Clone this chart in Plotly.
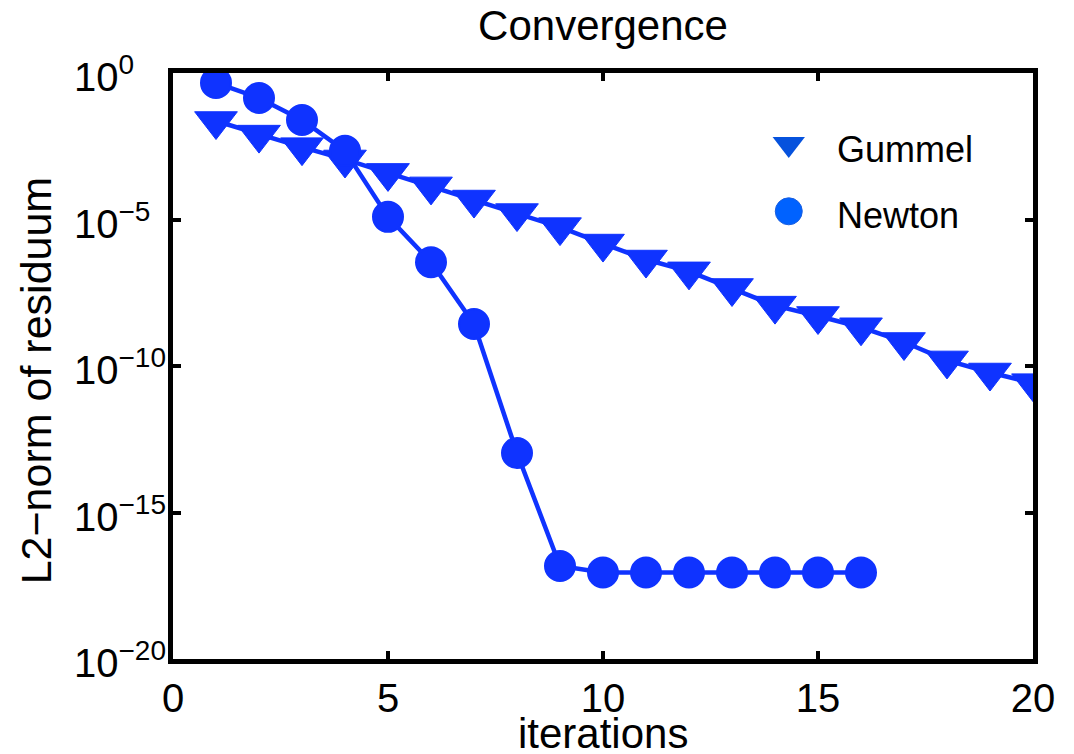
import plotly.graph_objects as go

# Residual history (L2-norm) per iteration for the two solvers
gummel_iter = list(range(1, 21))
gummel_res = [
    2.3e-2, 7.9e-3, 2.95e-3, 1.12e-3, 3.9e-4, 1.35e-4, 4.8e-5, 1.66e-5,
    5.5e-6, 1.51e-6, 4.3e-7, 1.7e-7, 4.6e-8, 1.15e-8, 5.1e-9, 2.1e-9,
    6.6e-10, 1.55e-10, 6.0e-11, 2.6e-11,
]

newton_iter = list(range(1, 17))
newton_res = [
    4.6e-1, 1.4e-1, 2.5e-2, 2.2e-3, 1.23e-5, 3.5e-7, 2.7e-9, 1.07e-13,
    1.5e-17, 9.0e-18, 9.0e-18, 9.0e-18, 9.0e-18, 9.0e-18, 9.0e-18, 9.0e-18,
]

series_names = ["Gummel", "Newton"]

x_ticks = [0, 5, 10, 15, 20]
y_tick_exps = [0, -5, -10, -15, -20]
y_tick_text = ["10<sup>%s</sup>" % ("0" if e == 0 else "\u2212%d" % -e) for e in y_tick_exps]

LINE_BLUE = "#0f33ff"
FONT = "Liberation Sans, Arial, Helvetica, sans-serif"

fig = go.Figure()

fig.add_trace(go.Scatter(
    x=gummel_iter, y=gummel_res, mode="lines+markers", name=series_names[0],
    line=dict(color=LINE_BLUE, width=4.5),
    marker=dict(symbol="triangle-down", size=37, color=LINE_BLUE,
                line=dict(color=LINE_BLUE, width=1)),
))
fig.add_trace(go.Scatter(
    x=newton_iter, y=newton_res, mode="lines+markers", name=series_names[1],
    line=dict(color=LINE_BLUE, width=4.5),
    marker=dict(symbol="circle", size=30, color=LINE_BLUE,
                line=dict(color=LINE_BLUE, width=2)),
))

# Legend box drawn on a hidden unit overlay so the keys keep full marker size
legend_x_marker = 0.716
legend_x_text = 0.770
legend_y_marker = [0.879, 0.764]
legend_y_text = [0.869, 0.757]

fig.add_trace(go.Scatter(
    x=[legend_x_marker], y=[legend_y_marker[0]], xaxis="x2", yaxis="y2",
    mode="markers", hoverinfo="skip",
    marker=dict(symbol="triangle-down", size=28, color="#0652dd"),
))
fig.add_trace(go.Scatter(
    x=[legend_x_marker], y=[legend_y_marker[1]], xaxis="x2", yaxis="y2",
    mode="markers", hoverinfo="skip",
    marker=dict(symbol="circle", size=27, color="#0062ff",
                line=dict(color="#1a5fe0", width=1)),
))
for name, ty in zip(series_names, legend_y_text):
    fig.add_annotation(
        x=legend_x_text, y=ty, xref="x2", yref="y2", text=name,
        showarrow=False, xanchor="left", yanchor="middle",
        font=dict(family=FONT, size=36, color="black"),
    )

# Decade labels: mantissa "10" left-aligned in a column, exponent running right
for e, txt in zip(y_tick_exps, y_tick_text):
    fig.add_annotation(
        x=-0.118, y=e, xref="paper", yref="y", text=txt,
        showarrow=False, xanchor="left", yanchor="middle", yshift=-1,
        font=dict(family=FONT, size=40, color="black"),
    )

# Axis titles
fig.add_annotation(
    x=-0.159, y=0.476, xref="paper", yref="paper", text="L2\u2212norm of residuum",
    showarrow=False, textangle=-90, xanchor="center", yanchor="middle",
    font=dict(family=FONT, size=43, color="black"),
)
fig.add_annotation(
    x=0.5, y=-0.127, xref="paper", yref="paper", text="iterations",
    showarrow=False, xanchor="center", yanchor="middle",
    font=dict(family=FONT, size=42, color="black"),
)

axis_common = dict(
    showline=True, linecolor="black", linewidth=5, mirror="ticks",
    ticks="inside", ticklen=8, tickwidth=4, tickcolor="black",
    showgrid=False, zeroline=False, automargin=False,
    tickfont=dict(family=FONT, size=40, color="black"),
)

fig.update_layout(
    width=1074, height=754,
    margin=dict(l=173, r=41, t=73, b=95),
    paper_bgcolor="white", plot_bgcolor="white",
    font=dict(family=FONT, color="black"),
    showlegend=False,
    title=dict(text="Convergence", x=0.5, xref="paper", xanchor="center",
               y=1, yref="paper", yanchor="bottom", pad=dict(b=33),
               font=dict(family=FONT, size=42, color="black")),
    xaxis=dict(range=[0, 20], tickvals=x_ticks, ticktext=[str(v) for v in x_ticks],
               **axis_common),
    yaxis=dict(type="log", range=[-20, 0],
               tickvals=[10.0 ** e for e in y_tick_exps], showticklabels=False,
               **axis_common),
    xaxis2=dict(overlaying="x", range=[0, 1], visible=False, fixedrange=True),
    yaxis2=dict(overlaying="y", range=[0, 1], visible=False, fixedrange=True),
)

fig.write_html("out.html")
